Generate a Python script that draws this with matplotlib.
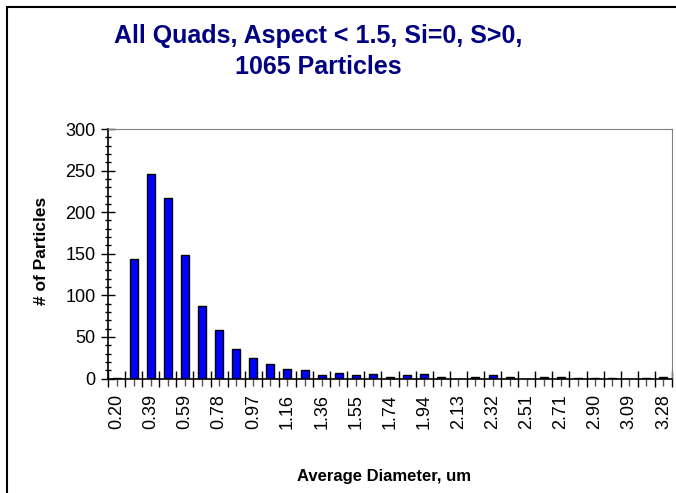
import matplotlib
matplotlib.use('Agg')
import matplotlib.pyplot as plt
from matplotlib.patches import Rectangle
from matplotlib.ticker import MultipleLocator, FixedLocator

# datos
diametros = ['0.20', '0.30', '0.39', '0.49', '0.59', '0.68', '0.78', '0.87', '0.97', '1.07',
             '1.16', '1.26', '1.36', '1.45', '1.55', '1.65', '1.74', '1.84', '1.94', '2.03',
             '2.13', '2.23', '2.32', '2.42', '2.51', '2.61', '2.71', '2.80', '2.90', '3.00',
             '3.09', '3.19', '3.28']
particulas = [1, 144, 246, 217, 148, 87, 58, 36, 25, 18,
              12, 10, 4, 7, 4, 6, 2, 4, 6, 2,
              0, 2, 4, 2, 0, 2, 2, 1, 1, 1,
              0, 1, 2]
titulo = ['All Quads, Aspect < 1.5, Si=0, S>0,', '1065 Particles']

plt.rcParams['font.family'] = ['Liberation Sans', 'DejaVu Sans']

W, H = 676, 493
fig = plt.figure(figsize=(W / 100, H / 100), dpi=100)
ax = fig.add_axes([108 / W, 1 - 378.5 / H, (672 - 108) / W, (378.5 - 129) / H])

x = list(range(len(diametros)))
ax.bar(x, particulas, width=0.47, color='#0000FF', edgecolor='black', linewidth=1)

ax.set_xlim(-0.5, len(diametros) - 0.5)
ax.set_ylim(0, 300)

# eje y
ax.yaxis.set_major_locator(MultipleLocator(50))
ax.yaxis.set_minor_locator(MultipleLocator(10))
ax.tick_params(axis='y', which='major', direction='inout', length=10, width=1, labelsize=13, pad=4)
ax.tick_params(axis='y', which='minor', direction='inout', length=5, width=1)

# eje x: etiquetas cada dos categorias
ax.set_xticks(x)
ax.set_xticklabels([d if i % 2 == 0 else '' for i, d in enumerate(diametros)], rotation=90)
ax.xaxis.set_minor_locator(FixedLocator([i - 0.5 for i in range(len(diametros) + 1)]))
ax.tick_params(axis='x', which='major', direction='out', length=5, width=1, color='#555555',
               labelsize=13, pad=6)
ax.tick_params(axis='x', which='minor', direction='inout', length=11, width=1)

for lado in ['top', 'right']:
    ax.spines[lado].set_color('#808080')
for lado in ['left', 'bottom']:
    ax.spines[lado].set_color('black')
    ax.spines[lado].set_linewidth(1.2)

# titulo en dos lineas
for linea, base in zip(titulo, [43.5, 73.5]):
    fig.text(318 / W, 1 - base / H, linea, ha='center', va='baseline',
             fontsize=18, fontweight='bold', color='#000080')
fig.text(384 / W, 1 - 476 / H, 'Average Diameter, um', ha='center', va='center',
         fontsize=12, fontweight='bold')
fig.text(41 / W, 1 - 251 / H, '# of Particles', ha='center', va='center', rotation=90,
         fontsize=12.5, fontweight='bold')

# marco del grafico
fig.add_artist(Rectangle((7 / W, -0.1), 1.2, 1.1 - 7 / H, transform=fig.transFigure,
                         fill=False, edgecolor='black', linewidth=1.5))

fig.savefig('out.png', dpi=100)
